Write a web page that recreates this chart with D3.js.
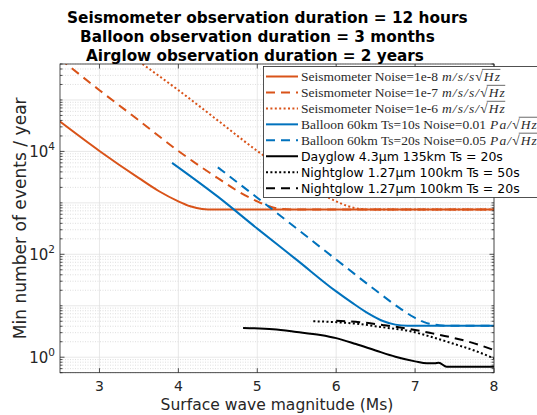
<!DOCTYPE html>
<html><head><meta charset="utf-8">
<script src="https://cdn.jsdelivr.net/npm/d3@7"></script>
<style>body{margin:0;background:#fff}svg{display:block}</style>
</head><body>
<script>
// ---------- DATA (magnitude Ms, events / year) ----------
const titleLines = ["Seismometer observation duration = 12 hours",
                    "Balloon observation duration = 3 months",
                    "Airglow observation duration = 2 years"];
const xTicks = [3, 4, 5, 6, 7, 8];
const yTickLabelExps = [0, 2, 4];
const xLabel = "Surface wave magnitude (Ms)";
const yLabel = "Min number of events / year";

const seis1e8 = [[2.5,38000],[3.0,10200],[3.5,3020],[3.75,1700],[4.0,1070],[4.15,860],[4.3,760],[4.45,740],[8,740]];
const seis1e7 = [[2.5,630000],[3.0,155000],[3.5,40000],[4.0,10200],[4.5,3020],[4.75,1700],[5.0,1070],[5.15,860],[5.3,760],[5.45,740],[8,740]];
const seis1e6 = [[3.5,560000],[4.0,155000],[4.5,40000],[5.0,10200],[5.5,3020],[5.75,1700],[6.0,1070],[6.15,860],[6.3,760],[6.45,740],[8,740]];
const balloon10 = [[3.92,6000],[4.5,1320],[5.0,316],[5.5,78],[6.0,19],[6.2,11.5],[6.4,7.2],[6.6,5.0],[6.75,4.3],[6.9,4.1],[8,4.1]];
const balloon20 = [[4.5,4900],[5.0,1260],[5.5,316],[6.0,79],[6.5,20],[6.8,9.1],[7.0,5.8],[7.15,4.6],[7.3,4.2],[7.4,4.1],[8,4.1]];
const dayglow = [[4.82,3.7],[5.2,3.5],[5.5,3.1],[5.8,2.7],[6.0,2.35],[6.25,1.8],[6.5,1.35],[6.75,1.02],[7.0,0.83],[7.15,0.76],[7.25,0.76],[7.3,0.78],[7.4,0.65],[8,0.65]];
const night50 = [[5.71,5.0],[6.0,4.8],[6.3,4.4],[6.6,3.8],[6.9,3.3],[7.2,2.5],[7.5,1.8],[7.75,1.35],[8.0,0.95]];
const night20 = [[6.0,5.1],[6.3,4.8],[6.6,4.2],[6.9,3.6],[7.2,2.95],[7.5,2.35],[7.75,1.86],[8.0,1.38]];

const legendTexts = [
  {pre:"Seismometer Noise=1e-8", math:"m/s/s", sq:"Hz"},
  {pre:"Seismometer Noise=1e-7", math:"m/s/s/", sq:"Hz"},
  {pre:"Seismometer Noise=1e-6", math:"m/s/s/", sq:"Hz"},
  {pre:"Balloon 60km Ts=10s Noise=0.01", math:"Pa/", sq:"Hz"},
  {pre:"Balloon 60km Ts=20s Noise=0.05", math:"Pa/", sq:"Hz"},
  {pre:"Dayglow 4.3µm 135km Ts = 20s"},
  {pre:"Nightglow 1.27µm 100km Ts = 50s"},
  {pre:"Nightglow 1.27µm 100km Ts = 20s"}
];

// ---------- STYLE ----------
const ORANGE = "#D95319", BLUE = "#0072BD", BLACK = "#000000";
const DASH = "9,6", DOT = "2,2.4";
const series = [
  {data:seis1e8, color:ORANGE, dash:null},
  {data:seis1e7, color:ORANGE, dash:DASH},
  {data:seis1e6, color:ORANGE, dash:DOT},
  {data:balloon10, color:BLUE, dash:null},
  {data:balloon20, color:BLUE, dash:DASH},
  {data:dayglow, color:BLACK, dash:null},
  {data:night50, color:BLACK, dash:DOT},
  {data:night20, color:BLACK, dash:DASH}
];

const W = 537, H = 415;
const L = 60, R = 494, T = 64, B = 372.7;
const AX = "#262626";
const SANS = "DejaVu Sans, sans-serif";
const SERIF = "Liberation Serif, serif";

const svg = d3.select("body").append("svg").attr("width", W).attr("height", H);

const x = d3.scaleLinear().domain([2.5, 8]).range([L, R]);
const y = d3.scaleLog().domain([0.5, 5e5]).range([B, T]);

function fit(sel, w) {
  const n = sel.node();
  const cur = n.getComputedTextLength();
  const fs = parseFloat(sel.attr("font-size"));
  sel.attr("font-size", (fs * w / cur).toFixed(2));
  return fs * w / cur;
}

// ---------- GRID ----------
const grid = svg.append("g");
const majors = [], minors = [];
for (let e = -1; e <= 5; e++) for (let k = 1; k <= 9; k++) {
  const v = k * Math.pow(10, e);
  if (v < 0.5 || v > 5e5) continue;
  if (k === 1) majors.push(v); else minors.push(v);
}
grid.selectAll(".mn").data(minors).enter().append("line")
  .attr("x1", L).attr("x2", R).attr("y1", d => y(d)).attr("y2", d => y(d))
  .attr("stroke", "#c8c8c8").attr("stroke-width", 0.6).attr("stroke-dasharray", "1,1.5");
grid.selectAll(".mj").data(majors).enter().append("line")
  .attr("x1", L).attr("x2", R).attr("y1", d => y(d)).attr("y2", d => y(d))
  .attr("stroke", "#dedede").attr("stroke-width", 0.7);
grid.selectAll(".xg").data(xTicks).enter().append("line")
  .attr("x1", d => x(d)).attr("x2", d => x(d)).attr("y1", T).attr("y2", B)
  .attr("stroke", "#dedede").attr("stroke-width", 0.7);

// ---------- LINES ----------
svg.append("clipPath").attr("id", "clip").append("rect")
  .attr("x", L).attr("y", T).attr("width", R - L).attr("height", B - T);
const line = d3.line().x(d => x(d[0])).y(d => y(d[1])).curve(d3.curveMonotoneX);
const plot = svg.append("g").attr("clip-path", "url(#clip)");
series.forEach(s => {
  plot.append("path").attr("d", line(s.data)).attr("fill", "none")
    .attr("stroke", s.color).attr("stroke-width", 2)
    .attr("stroke-dasharray", s.dash);
});

// ---------- AXES BOX & TICKS ----------
const ax = svg.append("g").attr("stroke", AX).attr("stroke-width", 0.8);
ax.append("rect").attr("x", L).attr("y", T).attr("width", R - L).attr("height", B - T).attr("fill", "none");
xTicks.forEach(t => {
  ax.append("line").attr("x1", x(t)).attr("x2", x(t)).attr("y1", B).attr("y2", B - 4.5);
  ax.append("line").attr("x1", x(t)).attr("x2", x(t)).attr("y1", T).attr("y2", T + 4.5);
});
const yMajorTickVals = yTickLabelExps.map(e => Math.pow(10, e));
majors.concat(minors).forEach(v => {
  const len = yMajorTickVals.includes(v) ? 4.5 : 2.5;
  ax.append("line").attr("x1", L).attr("x2", L + len).attr("y1", y(v)).attr("y2", y(v));
  ax.append("line").attr("x1", R).attr("x2", R - len).attr("y1", y(v)).attr("y2", y(v));
});

// tick labels
svg.selectAll(".xt").data(xTicks).enter().append("text")
  .attr("x", d => x(d)).attr("y", 391).attr("text-anchor", "middle")
  .attr("font-family", SANS).attr("font-size", 14).attr("fill", AX).text(d => d);
yTickLabelExps.forEach(e => {
  const t = svg.append("text").attr("x", 55).attr("y", y(Math.pow(10, e)) + 6)
    .attr("text-anchor", "end").attr("font-family", SANS).attr("font-size", 15).attr("fill", AX);
  t.append("tspan").text("10");
  t.append("tspan").attr("font-size", 10.5).attr("dy", -7).text(e);
});

// axis labels
const xl = svg.append("text").attr("x", (L + R) / 2).attr("y", 410).attr("text-anchor", "middle")
  .attr("font-family", SANS).attr("font-size", 15).attr("fill", AX).text(xLabel);
fit(xl, 233);
const yl = svg.append("text").attr("transform", `translate(26,${(T + B) / 2}) rotate(-90)`)
  .attr("text-anchor", "middle").attr("font-family", SANS).attr("font-size", 15).attr("fill", AX).text(yLabel);
fit(yl, 242);

// ---------- TITLE ----------
const tX = [67, 80, 86], tY = [23, 42, 60.5], tW = [401, 355, 338];
titleLines.forEach((s, i) => {
  const t = svg.append("text").attr("x", tX[i]).attr("y", tY[i])
    .attr("font-family", SANS).attr("font-weight", "bold").attr("font-size", 15)
    .attr("fill", "#000").text(s);
  fit(t, tW[i]);
});

// ---------- LEGEND ----------
const lg = svg.append("g");
lg.append("rect").attr("x", 263.5).attr("y", 66.5).attr("width", 300).attr("height", 131)
  .attr("fill", "#fff").attr("stroke", AX).attr("stroke-width", 0.8);
const rowY = i => 76.5 + i * 15.95;
let serifSize = null, letterSp = null, sansSize = null;
const TXT = "#2a2a2a";
legendTexts.forEach((lt, i) => {
  const s = series[i];
  lg.append("line").attr("x1", 266).attr("x2", 298).attr("y1", rowY(i)).attr("y2", rowY(i))
    .attr("stroke", s.color).attr("stroke-width", 2).attr("stroke-dasharray", s.dash);
  const isMath = !!lt.math;
  const by = rowY(i) + 4.5;
  if (isMath) {
    const t = lg.append("text").attr("x", 301).attr("y", by)
      .attr("font-family", SERIF).attr("font-size", 14).attr("fill", TXT).text(lt.pre);
    if (serifSize === null) serifSize = fit(t, 137);
    else t.attr("font-size", serifSize.toFixed(2));
    const preW = t.node().getComputedTextLength();
    const mx = 301 + preW + serifSize * 0.3;
    const m = lg.append("text").attr("x", mx).attr("y", by)
      .attr("font-family", SERIF).attr("font-size", serifSize.toFixed(2)).attr("fill", TXT);
    m.append("tspan").attr("font-style", "italic").text(lt.math);
    m.append("tspan").text("\u221A");
    m.append("tspan").attr("font-style", "italic").text(lt.sq);
    const full = lt.math + "\u221A" + lt.sq;
    if (letterSp === null) {
      const nat = m.node().getComputedTextLength();
      letterSp = Math.max(0, (59 - nat) / full.length);
    }
    m.attr("letter-spacing", letterSp.toFixed(2));
    const n = m.node();
    const iq = full.indexOf("\u221A");
    const eq = n.getExtentOfChar(iq);
    const ez = n.getExtentOfChar(full.length - 1);
    const yy = by - serifSize * 0.86;
    lg.append("line").attr("x1", eq.x + eq.width - letterSp - 0.8).attr("x2", ez.x + ez.width - letterSp + 0.5)
      .attr("y1", yy).attr("y2", yy).attr("stroke", TXT).attr("stroke-width", 0.7);
  } else {
    const t = lg.append("text").attr("x", 301).attr("y", by)
      .attr("font-family", SANS).attr("font-size", 13).attr("fill", "#000").text(lt.pre);
    if (sansSize === null) sansSize = fit(t, 202);
    else t.attr("font-size", sansSize.toFixed(2));
  }
});
</script>
</body></html>
